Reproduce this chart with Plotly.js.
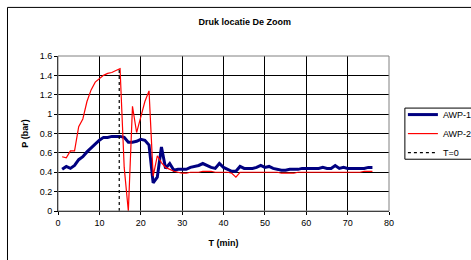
<!DOCTYPE html>
<html>
<head>
<meta charset="utf-8">
<script src="https://cdn.plot.ly/plotly-3.0.1.min.js"></script>
<style>
html,body{margin:0;padding:0;background:#fff;}
#chart{width:471px;height:260px;}
</style>
</head>
<body>
<div id="chart"></div>
<script>
const tMin = [1,2,3,4,5,6,7,8,9,10,11,12,13,14,15,16,17,18,19,20,21,22,23,24,25,26,27,28,29,30,31,32,33,34,35,36,37,38,39,40,41,42,43,44,45,46,47,48,49,50,51,52,53,54,55,56,57,58,59,60,61,62,63,64,65,66,67,68,69,70,71,72,73,74,75,76];
const awp1 = [0.43,0.46,0.44,0.47,0.53,0.56,0.61,0.65,0.70,0.73,0.76,0.76,0.77,0.77,0.77,0.76,0.71,0.71,0.72,0.74,0.73,0.68,0.29,0.35,0.66,0.44,0.49,0.42,0.43,0.43,0.43,0.45,0.46,0.47,0.49,0.47,0.45,0.44,0.49,0.45,0.43,0.41,0.41,0.46,0.44,0.44,0.44,0.45,0.47,0.45,0.46,0.44,0.43,0.42,0.42,0.43,0.43,0.43,0.44,0.44,0.44,0.44,0.44,0.45,0.44,0.44,0.47,0.44,0.45,0.44,0.44,0.44,0.44,0.44,0.45,0.45];
const awp2 = [0.56,0.55,0.62,0.62,0.87,0.95,1.13,1.25,1.33,1.37,1.40,1.42,1.43,1.45,1.47,0.45,0.00,1.08,0.81,0.97,1.13,1.24,0.36,0.57,0.50,0.45,0.43,0.41,0.40,0.39,0.39,0.40,0.40,0.40,0.41,0.41,0.41,0.40,0.40,0.40,0.40,0.39,0.35,0.40,0.40,0.40,0.40,0.40,0.40,0.40,0.40,0.40,0.40,0.39,0.39,0.39,0.39,0.40,0.40,0.40,0.40,0.40,0.40,0.40,0.40,0.40,0.40,0.40,0.40,0.40,0.40,0.40,0.40,0.41,0.41,0.41];
const t0X = [14.8,14.8];
const t0Y = [0,1.48];
const seriesNames = ["AWP-1","AWP-2","T=0"];
const xTicks = [0,10,20,30,40,50,60,70,80];
const yTicks = [0,0.2,0.4,0.6,0.8,1,1.2,1.4,1.6];

const font = "Liberation Sans, Arial, sans-serif";
const traces = [
  {x:tMin,y:awp1,name:seriesNames[0],type:"scatter",mode:"lines",line:{color:"#000080",width:3}},
  {x:tMin,y:awp2,name:seriesNames[1],type:"scatter",mode:"lines",line:{color:"#ff0000",width:1.2}},
  {x:t0X,y:t0Y,name:seriesNames[2],type:"scatter",mode:"lines",line:{color:"#000000",width:1.2,dash:"dot"}}
];
const layout = {
  width:471,height:260,
  margin:{l:58,r:82,t:56,b:49,autoexpand:false},
  paper_bgcolor:"#ffffff",plot_bgcolor:"#ffffff",
  font:{family:font,size:9,color:"#000"},
  title:{text:"<b>Druk locatie De Zoom</b>",font:{family:font,size:9,color:"#000"},xref:"container",yref:"container",x:0.5195,xanchor:"center",y:0.915,yanchor:"middle"},
  xaxis:{range:[0,80],tickvals:xTicks,ticktext:xTicks.map(String),showgrid:true,gridcolor:"#000",gridwidth:1,
    showline:true,linecolor:"#000",linewidth:1,ticks:"outside",ticklen:3,tickcolor:"#000",zeroline:false,
    tickfont:{family:font,size:9},title:{text:"<b>T (min)</b>",font:{family:font,size:9},standoff:12}},
  yaxis:{range:[0,1.6],tickvals:yTicks,ticktext:yTicks.map(String),showgrid:true,gridcolor:"#000",gridwidth:1,
    showline:true,linecolor:"#000",linewidth:1,ticks:"outside",ticklen:3,tickcolor:"#000",zeroline:false,
    tickfont:{family:font,size:9},title:{text:"<b>P (bar)</b>",font:{family:font,size:9},standoff:9}},
  legend:{x:1.042,xanchor:"left",y:0.7156,yanchor:"top",bgcolor:"rgba(0,0,0,0)",borderwidth:0,
    font:{family:font,size:9},tracegroupgap:0},
  showlegend:true,
  shapes:[
    {type:"rect",xref:"paper",yref:"paper",x0:-0.1526,x1:3,y0:-2,y1:1.3135,line:{color:"#000",width:1},layer:"below"},
    {type:"rect",xref:"paper",yref:"paper",x0:0,x1:1,y0:0,y1:1,line:{color:"#808080",width:1},layer:"above"},
    {type:"rect",xref:"paper",yref:"paper",x0:1.048,x1:1.5,y0:0.334,y1:0.664,line:{color:"#000",width:1},fillcolor:"#fff",layer:"below"}
  ]
};
Plotly.newPlot("chart",traces,layout,{staticPlot:true,displayModeBar:false});
</script>
</body>
</html>
